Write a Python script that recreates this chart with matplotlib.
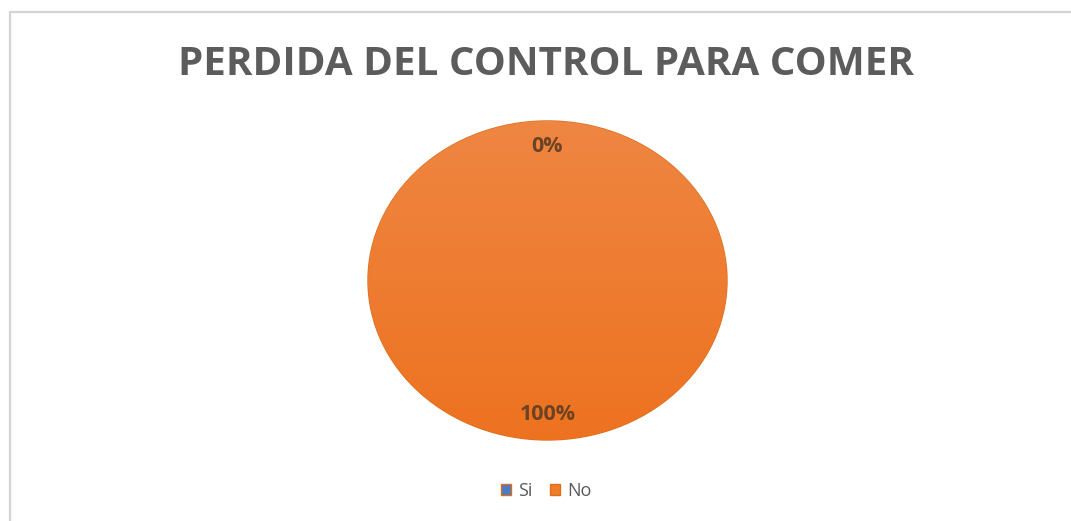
import matplotlib.pyplot as plt
import numpy as np
from matplotlib.colors import LinearSegmentedColormap
from matplotlib.patches import Rectangle

# survey answers
labels = ['Si', 'No']
values = [0, 100]
colors = ['#4a7cc0', '#f07b2a']

plt.rcParams['font.family'] = ['Open Sans', 'DejaVu Sans']

fig = plt.figure(figsize=(10.71, 5.21), dpi=100)
fig.patch.set_facecolor('white')

# light card border
fig.patches.append(Rectangle((0.0093, -0.05), 1.1, 1.027, transform=fig.transFigure,
                             fill=False, edgecolor='#d4d4d4', linewidth=1.6))

ax = fig.add_axes([0.3436, 0.1555, 0.3352, 0.6123])
wedges, texts, autotexts = ax.pie(
    values, colors=colors, startangle=90, counterclock=False,
    autopct='%1.0f%%', pctdistance=0.84,
    wedgeprops=dict(edgecolor='#d8701f', linewidth=1.0),
    textprops=dict(fontsize=15.5, color='#5e3d22', fontweight='bold'))
ax.set_aspect('auto')
ax.set_xlim(-1.0, 1.0)
ax.set_ylim(-1.0, 1.0)

# soft top-to-bottom shading on the filled slice
grad = LinearSegmentedColormap.from_list('shade', ['#ed7220', '#ef8642'])
img = ax.imshow(np.linspace(0, 1, 256).reshape(-1, 1), cmap=grad, origin='lower',
                extent=(-1, 1, -1, 1), aspect='auto', zorder=1.5)
img.set_clip_path(wedges[1])
for t in autotexts:
    t.set_zorder(3)
    t.set_alpha(0.9)

fig.text(0.51, 0.877, 'PERDIDA DEL CONTROL PARA COMER', ha='center', va='center',
         fontsize=29, fontweight='bold', color='#5c5c5c')

fig.legend(wedges, labels, loc='center', bbox_to_anchor=(0.51, 0.057), ncol=2,
           frameon=False, fontsize=13, handlelength=0.55, handleheight=0.55,
           handletextpad=0.4, columnspacing=1.0, labelcolor='#595959')

fig.savefig('out.png', dpi=100)
